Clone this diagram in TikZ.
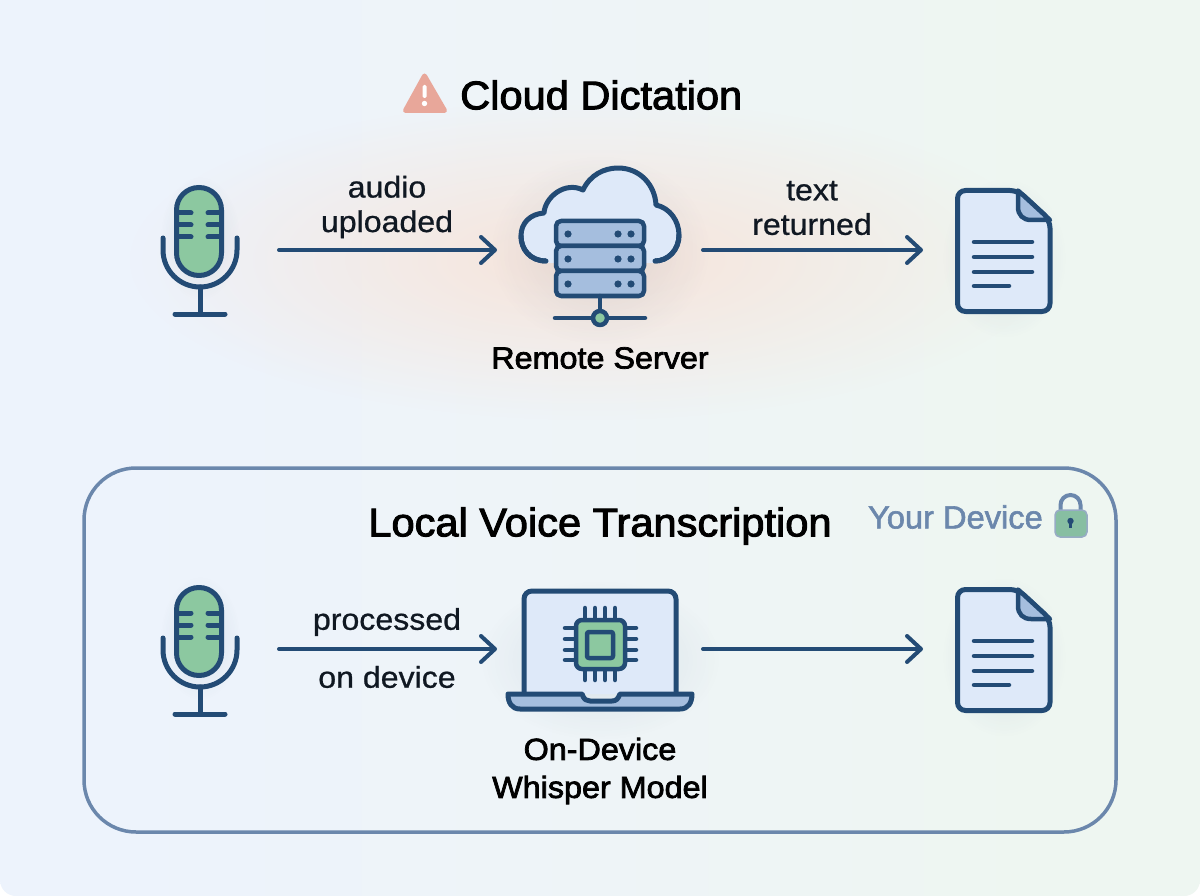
\documentclass[tikz,border=0pt]{standalone}
\usepackage{fontspec}
\setmainfont{Liberation Sans}
\newfontfamily\edgefont[FakeBold=0.8,FakeStretch=1.07]{Liberation Sans}
\newfontfamily\titlefont[FakeBold=2.4,FakeStretch=1.04]{Liberation Sans}
\newfontfamily\capfont[FakeBold=2.4,FakeStretch=1.06]{Liberation Sans}
\newfontfamily\devfont[FakeBold=1.8,FakeStretch=1.02]{Liberation Sans}
\definecolor{iconLine}{HTML}{234B75}
\definecolor{iconGreen}{HTML}{8CC8A0}
\definecolor{iconPale}{HTML}{DEE9F9}
\definecolor{iconMid}{HTML}{A5BEDE}
\definecolor{bgLeft}{HTML}{EDF3FC}
\definecolor{bgMid}{HTML}{EEF4F7}
\definecolor{bgRight}{HTML}{EEF6F1}
\definecolor{glowPeach}{HTML}{F7E4DA}
\definecolor{frameBlue}{HTML}{6B87AC}
\definecolor{warnRed}{HTML}{E8A79A}
\definecolor{inkDark}{HTML}{101822}
\usetikzlibrary{arrows.meta,fadings}
\pgfdeclarehorizontalshading{bgshade}{100bp}{color(0bp)=(bgLeft); color(30bp)=(bgLeft); color(50bp)=(bgMid); color(68bp)=(bgRight); color(100bp)=(bgRight)}
\tikzfading[name=glowfade, inner color=transparent!0, outer color=transparent!100]
\tikzset{
    iconbox/.style={
        minimum height=60pt,
        inner sep=0pt,
        outer sep=0pt
    },
    icon/.style={
        draw=iconLine,
        line width=5pt,
        line cap=round,
        line join=round
    },
    thin icon/.style={
        icon,
        line width=4.5pt
    },
    flow/.style={
        -{Straight Barb[round,length=14pt,width=26pt,line width=4pt]},
        line width=4pt,
        line cap=round,
        color=iconLine
    },
    edgetext/.style={
        font=\fontsize{30}{34.5}\selectfont\edgefont,
        color=inkDark,
        align=center,
        inner sep=0pt
    },
    titletext/.style={
        font=\fontsize{40}{46}\selectfont\titlefont,
        color=black,
        inner sep=0pt
    },
    captiontext/.style={
        font=\fontsize{30.5}{38}\selectfont\capfont,
        color=black,
        align=center,
        inner sep=0pt
    },
    softshadow/.style={
        fill=iconLine,
        opacity=0.11,
        path fading=glowfade
    },
    % microphone, origin at the middle of the icon
    micicon/.pic={
        \fill[softshadow] (0,-12) ellipse [x radius=40, y radius=62];
        \draw[icon, fill=iconGreen, rounded corners=22.4pt] (-23.5,-62.5) rectangle (21.5,25.5);
        \foreach \y in {-37,-25,-13} {
            \draw[icon] (-22,\y) -- (-9,\y);
            \draw[icon] (8,\y) -- (21,\y);
        }
        \draw[icon] (-37,-12) -- (-37,0) arc[start angle=180, end angle=0, radius=37] -- (37,-12);
        \draw[icon] (0,37) -- (0,64);
        \draw[icon] (-25,64) -- (25,64);
    },
    % page with folded corner, origin at the middle of the icon
    docicon/.pic={
        \fill[softshadow] (2,8) ellipse [x radius=62, y radius=80];
        \draw[icon, fill=iconPale, rounded corners=8pt] (-44.5,-59.5) -- (16,-59.5) -- (48,-30) -- (48,61.5) -- (-44.5,61.5) -- cycle;
        \draw[thin icon, fill=iconMid] (16,-59.5) -- (16,-43) .. controls (16,-35) and (21,-30) .. (29,-30) -- (48,-30) -- cycle;
        \foreach \y in {-8,7,22} {
            \draw[thin icon] (-28,\y) -- (30,\y);
        }
        \draw[thin icon] (-28,36) -- (7,36);
    }
}
\begin{document}
\begin{tikzpicture}[x=1pt,y=-1pt]
    \useasboundingbox (0,0) rectangle (1200,896);

    % Background
    \fill[white] (0,0) rectangle (1200,896);
    \shade[shading=bgshade] (0,0) -- (1200,0) [rounded corners=16pt] -- (1200,896) -- (0,896) [sharp corners] -- cycle;
    \fill[glowPeach, path fading=glowfade] (590,260) ellipse [x radius=460, y radius=160];

    % Icon places
    \node[iconbox, minimum width=158pt] (micTop) at (200,250) {};
    \node[iconbox, minimum width=206pt] (server) at (600,250) {};
    \node[iconbox, minimum width=158pt] (docTop) at (1002,250) {};
    \node[iconbox, minimum width=158pt] (micBottom) at (200,649) {};
    \node[iconbox, minimum width=206pt] (laptop) at (600,649) {};
    \node[iconbox, minimum width=158pt] (docBottom) at (1002,649) {};

    % Cloud part
    \node[titletext, anchor=west] (cloudTitle) at (460,95) {Cloud Dictation};
    \fill[warnRed, draw=warnRed, line width=5pt, line join=round] (424.5,76) -- (405.5,110.5) -- (444.5,110.5) -- cycle;
    \fill[white, rounded corners=1.5pt] (422.5,85) rectangle (426.5,98);
    \fill[white] (424.5,103.5) circle (2.7);

    \pic at (200,250) {micicon};
    \pic at (1002,250) {docicon};

    \node[edgetext] (audioText) at (387,207) {audio\\uploaded};
    \node[edgetext] (textText) at (812,208) {text\\returned};

    \fill[iconLine, opacity=0.11, path fading=glowfade] (600,250) ellipse [x radius=110, y radius=95];
    \draw[icon, fill=iconPale] (546,261) .. controls (530,261) and (521,249) .. (521,236)
        .. controls (521,223) and (530,214) .. (544,213)
        .. controls (545,197) and (565,181) .. (583,190)
        .. controls (590,175) and (604,168) .. (618,168)
        .. controls (640,168) and (655,185) .. (656,205)
        .. controls (670,208) and (679,221) .. (679,235)
        .. controls (679,250) and (668,261) .. (655,261);
    \fill[iconPale] (546,258) rectangle (655,263);
    \draw[icon] (546,261) .. controls (530,261) and (521,249) .. (521,236);
    \draw[icon] (679,235) .. controls (679,250) and (668,261) .. (655,261);
    \foreach \y in {221,246,271} {
        \draw[thin icon, fill=iconMid, rounded corners=5pt] (556,\y) rectangle (644,\y+25);
    }
    \foreach \y in {234,259,284} {
        \fill[iconLine] (568,\y) circle (3.6);
        \fill[iconLine] (618,\y) circle (3.6);
        \fill[iconLine] (631,\y) circle (3.6);
    }
    \draw[thin icon] (600,296) -- (600,318);
    \draw[thin icon] (555,318) -- (645,318);
    \draw[thin icon, fill=iconGreen] (600,318) circle (7);
    \node[captiontext] (serverText) at (600,358) {Remote Server};

    % Local part
    \draw[frameBlue, line width=3.5pt, rounded corners=52pt] (84,468) rectangle (1116,832);
    \node[titletext] (localTitle) at (600,526) {Local Voice Transcription};
    \node[font=\fontsize{32}{38}\selectfont\devfont, text=frameBlue, inner sep=0pt, anchor=east] (deviceText) at (1043,517) {Your Device};
    \draw[frameBlue, line width=4pt] (1060.5,511) -- (1060.5,505) arc[start angle=180, end angle=360, radius=10] -- (1080.5,511);
    \draw[frameBlue!70, fill=iconGreen!85!frameBlue, line width=1.5pt, rounded corners=5pt] (1055,510) rectangle (1087,537);
    \fill[iconLine] (1070.5,521) circle (3.2);
    \fill[iconLine] (1069.2,521) rectangle (1071.8,528);

    \pic at (200,650) {micicon};
    \pic at (1002,649) {docicon};

    \node[edgetext] (processedText) at (387,622) {processed};
    \node[edgetext] (onDeviceText) at (387,677) {on device};

    \fill[iconLine, opacity=0.11, path fading=glowfade] (600,660) ellipse [x radius=120, y radius=80];
    \draw[icon, fill=iconPale, rounded corners=8pt] (524,694) -- (524,591) -- (676,591) -- (676,694);
    \draw[icon, fill=iconMid, line join=round] (508,694) -- (582,694) .. controls (584,700) and (587,701) .. (590,701)
        -- (612,701) .. controls (616,701) and (618,699) .. (620,694) -- (692,694)
        .. controls (692,703) and (688,709) .. (680,709) -- (520,709) .. controls (512,709) and (508,703) .. (508,694) -- cycle;
    \foreach \x in {585,595,605,615} {
        \draw[thin icon] (\x,608) -- (\x,620);
        \draw[thin icon] (\x,669) -- (\x,680);
    }
    \foreach \y in {628,639,650,660} {
        \draw[thin icon] (565,\y) -- (576,\y);
        \draw[thin icon] (625,\y) -- (636,\y);
    }
    \draw[thin icon, fill=iconGreen, rounded corners=6pt] (576,620) rectangle (625,669);
    \draw[thin icon, fill=iconGreen, rounded corners=2pt] (587,632) rectangle (613,658);
    \node[captiontext] (modelText) at (600,771) {On-Device\\Whisper Model};

    % Arrows
    \draw[flow] (micTop) -- (server);
    \draw[flow] (server) -- (docTop);
    \draw[flow] (micBottom) -- (laptop);
    \draw[flow] (laptop) -- (docBottom);
\end{tikzpicture}
\end{document}
